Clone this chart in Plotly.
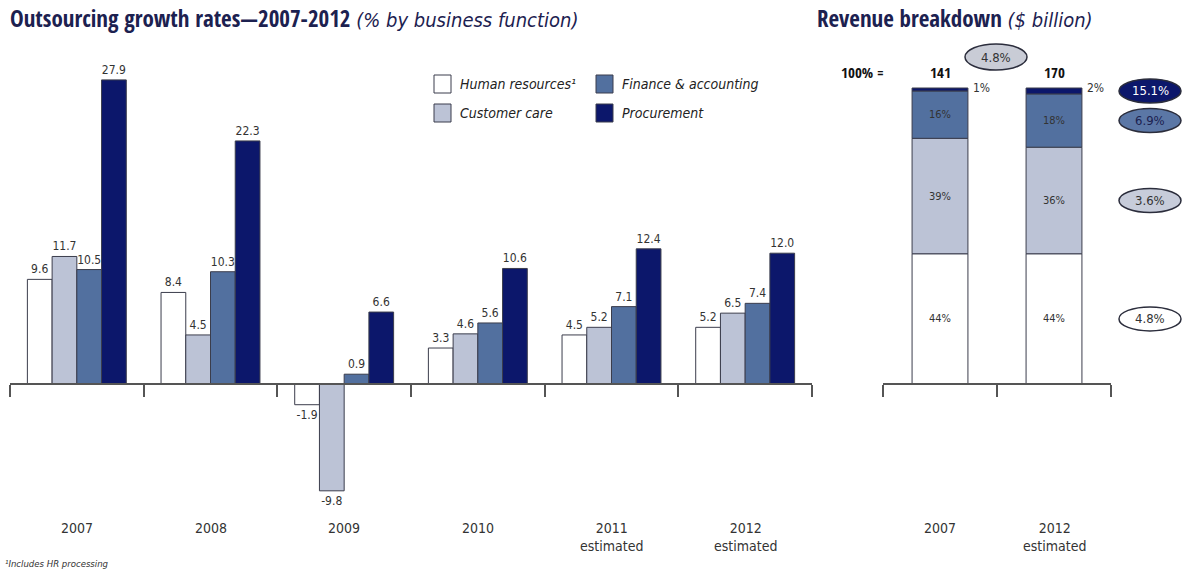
import plotly.graph_objects as go

# ---- growth rates by business function (%), 2007-2012 ----
years = ["2007", "2008", "2009", "2010", "2011", "2012"]
year_labels = ["2007", "2008", "2009", "2010", "2011<br>estimated", "2012<br>estimated"]
series_names = ["Human resources¹", "Customer care", "Finance & accounting", "Procurement"]
hr_growth = [9.6, 8.4, -1.9, 3.3, 4.5, 5.2]
cc_growth = [11.7, 4.5, -9.8, 4.6, 5.2, 6.5]
fa_growth = [10.5, 10.3, 0.9, 5.6, 7.1, 7.4]
proc_growth = [27.9, 22.3, 6.6, 10.6, 12.4, 12.0]

# ---- revenue breakdown (% share of total) ----
rev_years = ["2007", "2012"]
rev_labels = ["2007", "2012<br>estimated"]
rev_totals = [141, 170]
hr_share = [44, 44]
cc_share = [39, 36]
fa_share = [16, 18]
proc_share = [1, 2]
# compound growth per function and total
share_growth = ["4.8%", "3.6%", "6.9%", "15.1%"]
total_growth = "4.8%"

fills = ["#ffffff", "#bcc3d6", "#52709f", "#0c176b"]
outline = "#3b3d4c"
navy = "#1c2150"
txt = "#333333"
FONT = "DejaVu Sans Condensed, sans-serif"
BOLD = "Open Sans Condensed, DejaVu Sans Condensed, sans-serif"

W, H = 1182, 571
base_px = 384  # pixel row of the zero line
left_scale = 10.9  # px per percentage point
right_scale = 2.96  # px per share point

def px_range(scale):
    return [-(H - base_px) / scale, base_px / scale]

fig = go.Figure()

growth = [hr_growth, cc_growth, fa_growth, proc_growth]
for name, vals, col in zip(series_names, growth, fills):
    fig.add_trace(go.Bar(
        x=years, y=vals, name=name, xaxis="x", yaxis="y",
        marker=dict(color=col, line=dict(color=outline, width=1)),
        text=[f"{v:.1f}" for v in vals], textposition="outside",
        textfont=dict(family=FONT, size=12, color=txt),
        constraintext="none", cliponaxis=False, showlegend=False,
    ))

shares = [hr_share, cc_share, fa_share, proc_share]
bases = [[0, 0]]
for s in shares[:-1]:
    bases.append([b + v for b, v in zip(bases[-1], s)])
for name, vals, b, col in zip(series_names, shares, bases, fills):
    fig.add_trace(go.Bar(
        x=rev_years, y=vals, base=b, name=name, xaxis="x2", yaxis="y2",
        offsetgroup="rev", width=0.49,
        marker=dict(color=col, line=dict(color=outline, width=1)),
        showlegend=False,
    ))

x1_dom = [10 / W, 812 / W]
x2_dom = [883 / W, 1111 / W]
axis_pos = 1 - base_px / H

fig.update_layout(
    width=W, height=H, margin=dict(l=0, r=0, t=0, b=0),
    paper_bgcolor="white", plot_bgcolor="rgba(0,0,0,0)",
    barmode="group", bargap=0.26, bargroupgap=0,
    font=dict(family=FONT, color=txt),
    xaxis=dict(domain=x1_dom, range=[-0.5, 5.5], anchor="free", position=axis_pos,
               showline=True, linecolor="#555555", linewidth=1.5,
               ticks="outside", ticklen=12, tickcolor="#555555", tickwidth=1.5,
               tickmode="array", tickvals=[i - 0.5 for i in range(7)],
               showticklabels=False, showgrid=False, zeroline=False),
    yaxis=dict(domain=[0, 1], range=px_range(left_scale), visible=False),
    xaxis2=dict(domain=x2_dom, range=[-0.5, 1.5], anchor="free", position=axis_pos,
                showline=True, linecolor="#555555", linewidth=1.5,
                ticks="outside", ticklen=12, tickcolor="#555555", tickwidth=1.5,
                tickmode="array", tickvals=[-0.5, 0.5, 1.5],
                showticklabels=False, showgrid=False, zeroline=False),
    yaxis2=dict(domain=[0, 1], range=px_range(right_scale), visible=False),
)

ann = []
shapes = []

def note(x, y, text, size, color=txt, xref="paper", yref="paper", xa="center", ya="middle",
         family=FONT, **kw):
    ann.append(dict(xref=xref, yref=yref, x=x, y=y, xanchor=xa, yanchor=ya, showarrow=False,
                    text=text, font=dict(family=family, size=size, color=color), **kw))

def title(head, sub):
    return (f"<b>{head}</b> "
            f"<span style=\"font-family:'DejaVu Sans Condensed';font-size:20px\"><i>{sub}</i></span>")

# titles
note(8 / W, 1 - 18 / H, title("Outsourcing growth rates—2007-2012", "(% by business function)"),
     23, navy, xa="left", family=BOLD)
note(815 / W, 1 - 18 / H, title("Revenue breakdown", "($ billion)"), 23, navy, xa="left", family=BOLD)

# category labels under both charts
for i, lab in enumerate(year_labels):
    note(i, 1 - 518 / H, lab, 14, xref="x", ya="top")
for i, lab in enumerate(rev_labels):
    note(i, 1 - 518 / H, lab, 14, xref="x2", ya="top")

# footnote
note(3 / W, 1 - 563 / H, "<i>¹Includes HR processing</i>", 9.5, xa="left")

# legend, two columns
leg_pos = [(434, 84), (434, 113), (596, 84), (596, 113)]
for (lx, ly), name, col in zip(leg_pos, series_names, fills):
    shapes.append(dict(type="rect", xref="paper", yref="paper",
                       x0=lx / W, x1=(lx + 17) / W, y0=1 - (ly - 9) / H, y1=1 - (ly + 9) / H,
                       fillcolor=col, line=dict(color=outline, width=1)))
    note((lx + 24) / W, 1 - ly / H, f"<i>{name}</i>", 14, "#222222", xa="left")

# segment labels inside the stacked columns
for j in range(len(rev_years)):
    for k in range(3):
        mid = bases[k][j] + shares[k][j] / 2
        note(j, mid, f"{shares[k][j]}%", 11, xref="x2", yref="y2")
    top = bases[3][j] + shares[3][j]
    note(j + 0.27, top, f"{shares[3][j]}%", 12, xref="x2", yref="y2", xa="left")
    note(j, top, f"<b>{rev_totals[j]}</b>", 15, "#111111", xref="x2", yref="y2", yshift=16,
         family=BOLD)
note(862 / W, 100, "<b>100% =</b>", 15, "#111111", yref="y2", yshift=16, family=BOLD)

# growth ellipses
ell_fill = ["#ffffff", "#c7ccda", "#5b77a6", "#0c176b"]
ell_text = ["#333333", "#333333", "#1c2150", "#ffffff"]
ell_x = 1150 / W
for k in range(4):
    mid = bases[k][1] + shares[k][1] / 2
    shapes.append(dict(type="circle", xref="paper", yref="y2",
                       xsizemode="pixel", ysizemode="pixel", xanchor=ell_x, yanchor=mid,
                       x0=-31, x1=31, y0=-12, y1=12,
                       fillcolor=ell_fill[k], line=dict(color="#2b2d3c", width=1.5)))
    note(ell_x, mid, share_growth[k], 13, ell_text[k], yref="y2")
shapes.append(dict(type="circle", xref="paper", yref="paper",
                   xsizemode="pixel", ysizemode="pixel", xanchor=996 / W, yanchor=1 - 57 / H,
                   x0=-31, x1=31, y0=-13, y1=13,
                   fillcolor="#c9ccd6", line=dict(color="#2b2d3c", width=1.5)))
note(996 / W, 1 - 57 / H, total_growth, 13)

fig.update_layout(annotations=ann, shapes=shapes)
fig.write_html("out.html")
